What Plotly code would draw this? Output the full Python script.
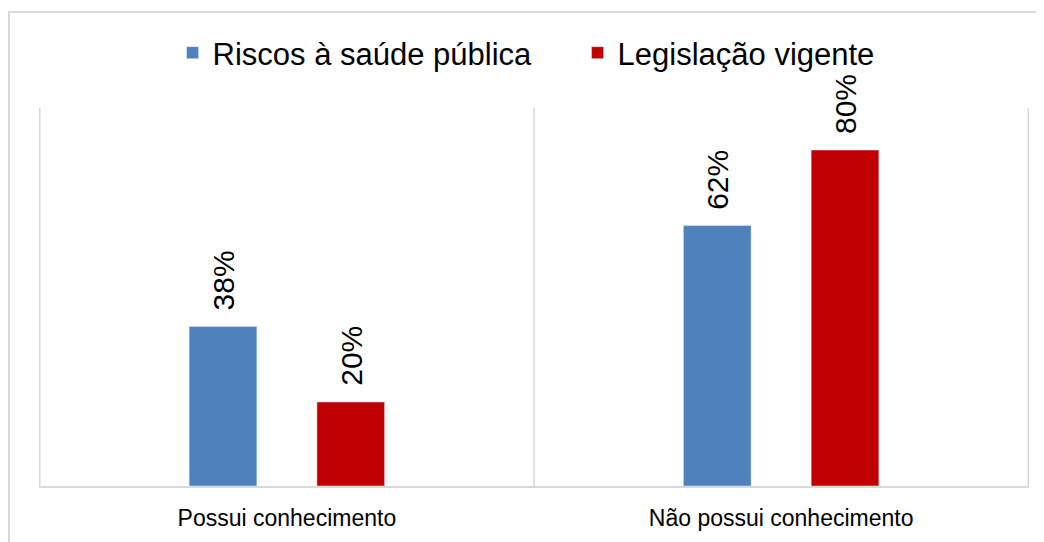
import plotly.graph_objects as go

categories = ["Possui conhecimento", "Não possui conhecimento"]
series_names = ["Riscos à saúde pública", "Legislação vigente"]
riscos = [0.38, 0.62]
legislacao = [0.20, 0.80]
colors = ["#4F81BD", "#C00000"]

BARGAP = 0.483
fig = go.Figure()
for name, vals, col in zip(series_names, [riscos, legislacao], colors):
    fig.add_trace(go.Bar(x=categories, y=vals, name=name, marker_color=col))

# data labels as rotated annotations above each bar
annotations = []
offset = (1 - BARGAP) / 4
for si, vals in enumerate([riscos, legislacao]):
    for ci, v in enumerate(vals):
        annotations.append(dict(
            x=ci + (-offset if si == 0 else offset), y=v, xref="x", yref="y",
            text=f"{v:.0%}", textangle=-90, showarrow=False,
            xanchor="center", yanchor="bottom", yshift=14,
            font=dict(family="Liberation Sans, Arial", size=30, color="#000000"),
        ))

grid = "#d9d9d9"
shapes = []
for xb in [-0.5, 0.5, 1.5]:
    shapes.append(dict(type="line", xref="x", yref="y", x0=xb, x1=xb, y0=0, y1=0.9,
                       line=dict(color=grid, width=1.5), layer="below"))
# outer chart frame (partially visible)
shapes.append(dict(type="rect", xref="paper", yref="paper",
                   x0=-30/990, x1=1.2, y0=-0.6, y1=(474)/378,
                   line=dict(color=grid, width=2), fillcolor="rgba(0,0,0,0)", layer="below"))

fig.update_layout(
    width=1036, height=534,
    margin=dict(l=31, r=15, t=100, b=56),
    paper_bgcolor="white", plot_bgcolor="white",
    barmode="group", bargap=BARGAP, bargroupgap=0.47,
    font=dict(family="Liberation Sans, Arial", color="#000000"),
    showlegend=True,
    legend=dict(orientation="h", x=0.544, xanchor="center", y=433/378, yanchor="middle",
                font=dict(size=31, color="#000000"), entrywidth=360, bgcolor="rgba(0,0,0,0)"),
    shapes=shapes,
    annotations=annotations,
)
fig.update_xaxes(showgrid=False, showline=True, linecolor=grid, linewidth=2,
                 ticks="", tickfont=dict(size=23, color="#000000"), ticklabelstandoff=10)
fig.update_yaxes(range=[0, 0.9], visible=False, showgrid=False, zeroline=False)

fig.write_html("out.html")
